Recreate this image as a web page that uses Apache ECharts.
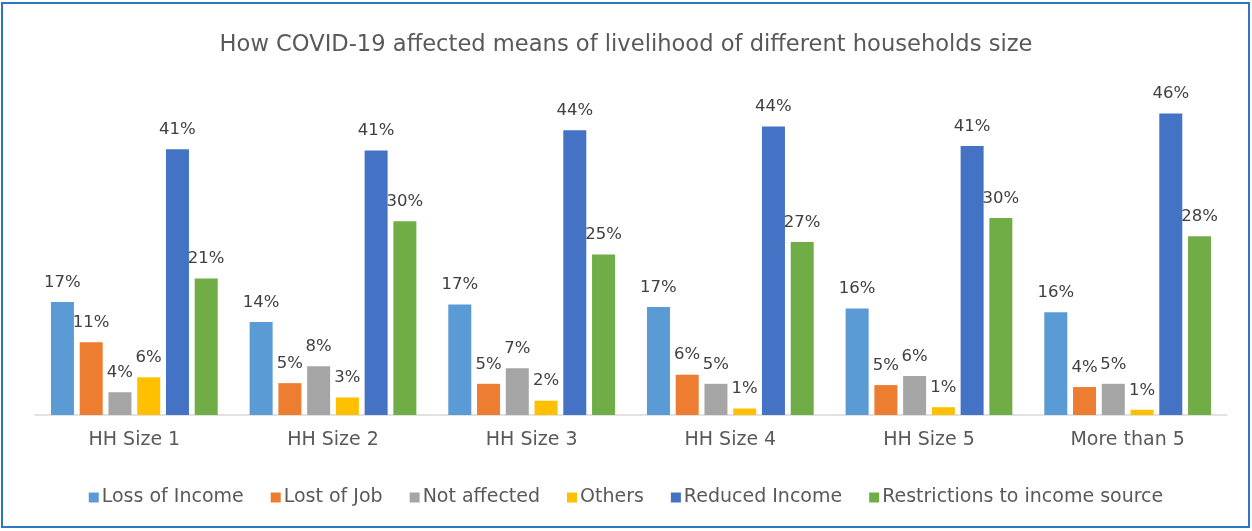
<!DOCTYPE html>
<html>
<head>
<meta charset="utf-8">
<script src="https://cdn.jsdelivr.net/npm/echarts@6/dist/echarts.min.js"></script>
<style>
  html, body { margin: 0; padding: 0; background: #fff; }
  #chart { width: 1252px; height: 531px; }
</style>
</head>
<body>
<div id="chart"></div>
<script>
// 类别（家庭规模）
var categories = ['HH Size 1', 'HH Size 2', 'HH Size 3', 'HH Size 4', 'HH Size 5', 'More than 5']

// 各系列数值（%）
var lossOfIncome = [17.4, 14.3, 17.0, 16.6, 16.4, 15.8]
var lostOfJob = [11.2, 4.9, 4.8, 6.2, 4.6, 4.3]
var notAffected = [3.5, 7.5, 7.2, 4.8, 6.0, 4.8]
var others = [5.8, 2.7, 2.2, 1.0, 1.2, 0.8]
var reducedIncome = [40.9, 40.7, 43.8, 44.4, 41.4, 46.4]
var restrictions = [21.0, 29.8, 24.7, 26.6, 30.3, 27.5]

var seriesNames = ['Loss of Income', 'Lost of Job', 'Not affected', 'Others', 'Reduced Income', 'Restrictions to income source']
var seriesData = [lossOfIncome, lostOfJob, notAffected, others, reducedIncome, restrictions]
var colors = ['#5B9BD5', '#ED7D31', '#A5A5A5', '#FFC000', '#4472C4', '#70AD47']

var font = 'DejaVu Sans'

var myChart = echarts.init(document.getElementById('chart'))

myChart.setOption({
  animation: false,
  color: colors,
  title: {
    text: 'How COVID-19 affected means of livelihood of different households size',
    left: 'center',
    top: 29,
    textStyle: { fontFamily: font, fontSize: 22.6, fontWeight: 'normal', color: '#595959' }
  },
  graphic: [{
    type: 'rect',
    shape: { x: 2, y: 3, width: 1247, height: 524 },
    style: { fill: 'none', stroke: '#2A78C2', lineWidth: 2 },
    silent: true
  }],
  legend: {
    data: seriesNames,
    left: 'center',
    top: 483,
    itemWidth: 10,
    itemHeight: 10,
    itemGap: 27,
    icon: 'rect',
    textStyle: { fontFamily: font, fontSize: 19, color: '#595959', padding: [0, 0, 0, -2] }
  },
  grid: { left: 35, right: 25, top: 90, bottom: 116 },
  xAxis: {
    type: 'category',
    data: categories,
    axisTick: { show: false },
    axisLine: { lineStyle: { color: '#D9D9D9', width: 1.5 } },
    axisLabel: { fontFamily: font, fontSize: 19, color: '#595959', margin: 16 }
  },
  yAxis: {
    type: 'value',
    min: 0,
    max: 50,
    show: false,
    splitLine: { show: false }
  },
  series: seriesNames.map(function (name, i) {
    return {
      name: name,
      type: 'bar',
      data: seriesData[i],
      barWidth: 23,
      barGap: '25%',
      label: {
        show: true,
        position: 'top',
        distance: 11,
        fontFamily: font,
        fontSize: 16.5,
        color: '#404040',
        formatter: function (p) { return Math.round(p.value) + '%' }
      }
    }
  })
})
</script>
</body>
</html>
